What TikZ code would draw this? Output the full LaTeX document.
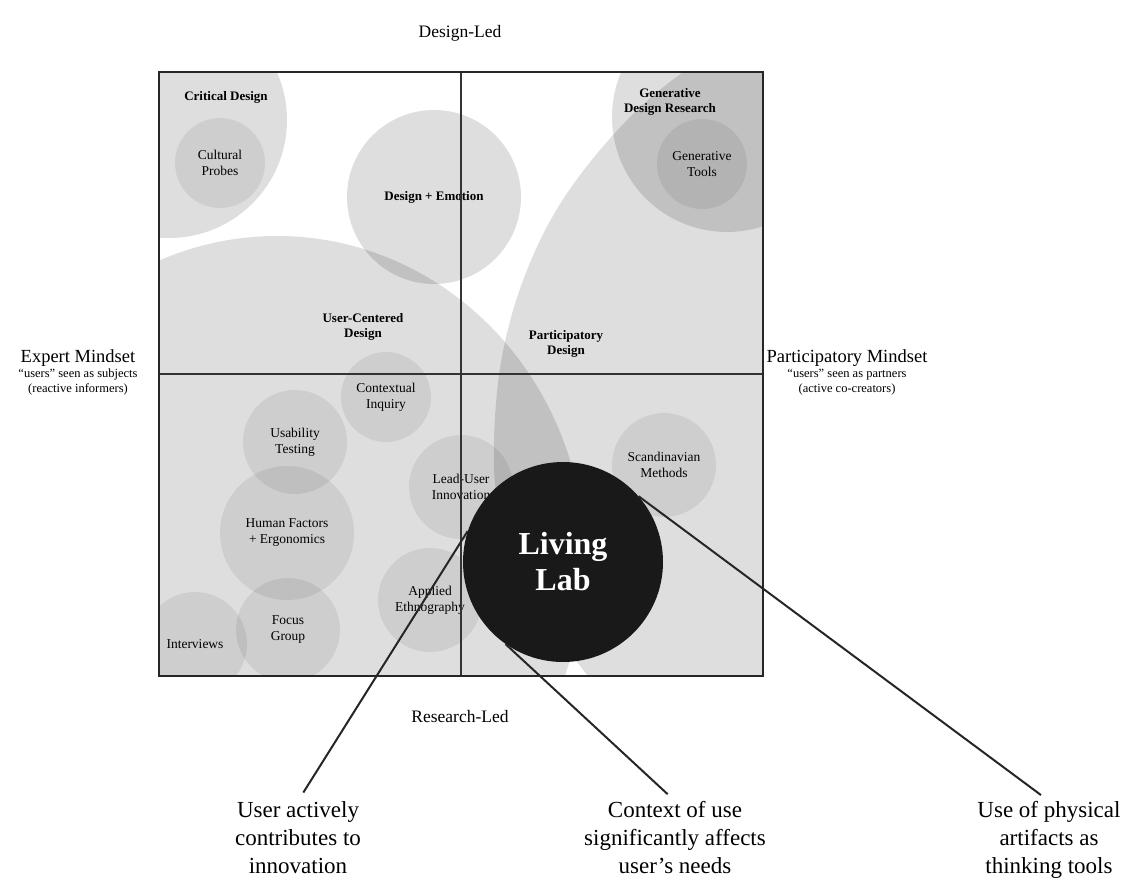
\documentclass[tikz,border=0pt]{standalone}
\usepackage{fontspec}
\setmainfont{Liberation Serif}
\usetikzlibrary{positioning}

\newcommand{\headfont}{\fontsize{13}{15}\selectfont\bfseries}
\newcommand{\blobfont}{\fontsize{13.5}{16}\selectfont}
\newcommand{\notefont}{\fontsize{23}{28}\selectfont}
\newcommand{\axisfont}{\fontsize{17.5}{20}\selectfont}

\tikzset{
  region/.style={fill=black, fill opacity=0.13},
  bigblob/.style={circle, fill=black, fill opacity=0.13, text opacity=1, inner sep=0pt, font=\headfont},
  blob/.style={circle, fill=black, fill opacity=0.07, text opacity=1, inner sep=0pt, align=center, font=\blobfont},
  head/.style={font=\headfont, align=center, inner sep=0pt},
  axislabel/.style={font=\axisfont, inner sep=0pt},
  mindset/.style={font=\fontsize{18.5}{20}\selectfont, inner sep=0pt},
  minor/.style={font=\fontsize{12.5}{15}\selectfont, align=center, inner sep=0pt},
  note/.style={font=\notefont, align=center, inner sep=0pt, anchor=north},
  pointer/.style={line width=2pt, black!85, shorten >=10pt},
}

\begin{document}
\begin{tikzpicture}[x=1pt, y=-1pt]
    \useasboundingbox (0,0) rectangle (1128,879);
    \def\frameA{(159,72) rectangle (763,676)}
    % overlapping areas of the landscape
    \begin{scope}
        \clip \frameA;
        \fill[region] (169,120) circle[radius=118pt];
        \fill[region] (727,117) circle[radius=115pt];
        \fill[region] (277,560) ellipse[x radius=308pt, y radius=324pt];
        \fill[region] plot[smooth, tension=0.6] coordinates {(791,16) (719,49) (655,94) (600,150) (554,214) (521,286) (501,362) (494,440) (497,500) (512,560) (545,618) (588,676) (610,700)} -- (900,700) -- (900,0) -- cycle;
        \node[bigblob, minimum size=174pt] (emotion) at (434,197) {Design + Emotion};
        \node[blob, minimum size=90pt] (probes) at (220,163) {Cultural\\Probes};
        \node[blob, minimum size=90pt] (gentools) at (702,164) {Generative\\Tools};
        \node[blob, minimum size=90pt] (inquiry) at (386,397) {Contextual\\Inquiry};
        \node[blob, minimum size=104pt] (usability) at (295,442) {Usability\\Testing};
        \node[blob, minimum size=134pt] (factors) at (287,533) {Human Factors\\+ Ergonomics};
        \node[blob, minimum size=104pt] (focus) at (288,630) {Focus\\Group};
        \node[blob, minimum size=104pt] (interviews) at (195,644) {Interviews};
        \node[blob, minimum size=104pt] (ethno) at (430,600) {Applied\\Ethnography};
        \node[blob, minimum size=104pt] (leaduser) at (461,487) {Lead-User\\Innovation};
        \node[blob, minimum size=104pt] (scandi) at (664,465) {Scandinavian\\Methods};
    \end{scope}
    \node[head] (critical) at (226,97) {Critical Design};
    \node[head] (generative) at (670,102) {Generative\\Design Research};
    \node[head] (ucd) at (363,327) {User-Centered\\Design};
    \node[head] (pd) at (566,344) {Participatory\\Design};
    % axes
    \draw[line width=1.2pt, black!80] (461,72) -- (461,676);
    \draw[line width=1.2pt, black!80] (159,374) -- (763,374);
    \draw[line width=2.5pt, black!85] \frameA;
    \node[axislabel] (designled) at (460,33) {Design-Led};
    \node[axislabel] (researchled) at (460,717) {Research-Led};
    \node[mindset] (expert) at (78,358) {Expert Mindset};
    \node[minor, below=2pt of expert] (expertsub) {“users” seen as subjects\\(reactive informers)};
    \node[mindset] (partic) at (847,358) {Participatory Mindset};
    \node[minor, below=2pt of partic] (particsub) {“users” seen as partners\\(active co-creators)};
    % living lab and its features
    \node[circle, minimum size=200pt, inner sep=0pt, fill=black!90, text=white, align=center, font=\fontsize{32}{36}\selectfont\bfseries] (living) at (563,562) {Living\\Lab};
    \node[note] (innov) at (298,801) {User actively\\contributes to\\innovation};
    \node[note] (context) at (675,801) {Context of use\\significantly affects\\user’s needs};
    \node[note] (artifacts) at (1049,801) {Use of physical\\artifacts as\\thinking tools};
    \draw[pointer] (living.162) -- (innov.north);
    \draw[pointer] (living.235) -- (context.north);
    \draw[pointer] (living.41) -- (artifacts.north);
\end{tikzpicture}
\end{document}
